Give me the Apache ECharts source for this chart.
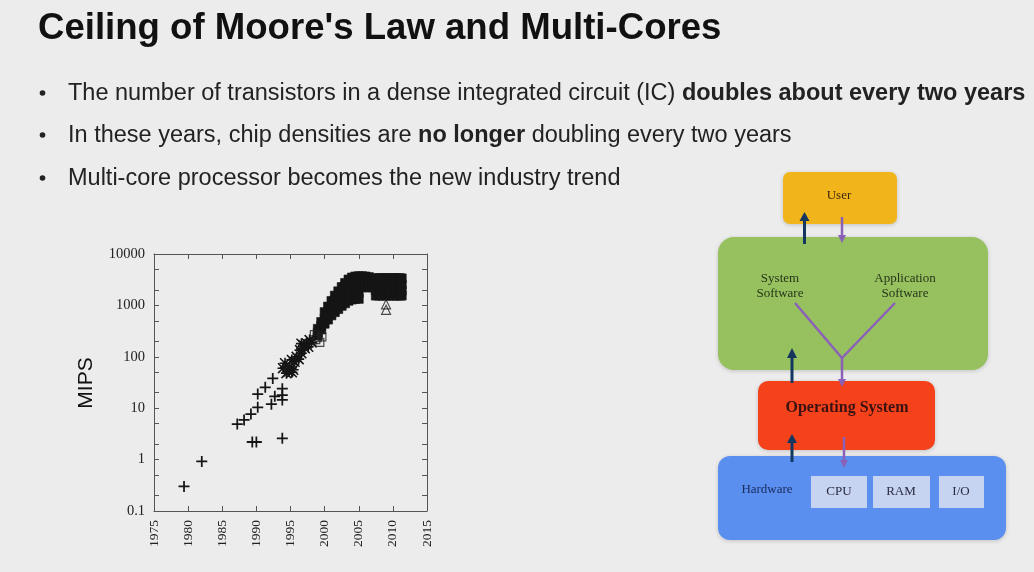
<!DOCTYPE html>
<html>
<head>
<meta charset="utf-8">
<script src="https://cdn.jsdelivr.net/npm/echarts@6/dist/echarts.min.js"></script>
<style>
html,body{margin:0;padding:0;background:#ececec;}
#main{width:1034px;height:572px;}
</style>
</head>
<body>
<div id="main"></div>
<script>
// ---- data ----
var xTickYears = [1975, 1980, 1985, 1990, 1995, 2000, 2005, 2010, 2015];
var yLabelValues = [0.1, 1, 10, 100, 1000, 10000];
var yTickValues = [0.1, 0.2, 0.5, 1, 2, 5, 10, 20, 50, 100, 200, 500, 1000, 2000, 5000, 10000];

var crossPoints = [
  [1979.4, 0.30], [1982.0, 0.92], [1987.2, 4.9], [1988.2, 5.9], [1989.2, 7.7],
  [1990.2, 10.4], [1990.2, 18.8], [1991.3, 25.5], [1992.4, 38], [1992.2, 12],
  [1992.7, 17], [1993.8, 24], [1993.8, 18], [1993.8, 14.5], [1989.4, 2.2],
  [1990.0, 2.2], [1993.8, 2.6]
];
var starPoints = [
  [1993.9, 60], [1994.2, 75], [1994.4, 48], [1994.7, 52], [1994.9, 64],
  [1995.2, 87], [1995.2, 50], [1995.4, 56], [1995.6, 80], [1995.9, 100],
  [1996.2, 90], [1996.4, 135], [1996.6, 117], [1996.6, 180], [1996.9, 168],
  [1997.1, 146], [1997.4, 182], [1997.6, 157], [1997.8, 212], [1998.1, 190]
];
var openSquarePoints = [
  [1998.5, 270], [1998.7, 215], [1998.9, 235], [1999.3, 190], [1999.6, 245]
];
var trianglePoints = [[2009.0, 1050], [2009.0, 820]];
var filledSquarePoints = [
  [1999.0, 260], [1999.0, 300], [1999.0, 350],
  [1999.5, 340], [1999.5, 400], [1999.5, 475],
  [2000.0, 440], [2000.0, 560], [2000.0, 740],
  [2000.5, 530], [2000.5, 700], [2000.5, 950],
  [2001.0, 640], [2001.0, 850], [2001.0, 1220],
  [2001.5, 740], [2001.5, 980], [2001.5, 1250], [2001.5, 1550],
  [2002.0, 850], [2002.0, 1100], [2002.0, 1450], [2002.0, 1880],
  [2002.5, 980], [2002.5, 1250], [2002.5, 1700], [2002.5, 2280],
  [2003.0, 1100], [2003.0, 1400], [2003.0, 1850], [2003.0, 2350], [2003.0, 2730],
  [2003.5, 1230], [2003.5, 1600], [2003.5, 2100], [2003.5, 2650], [2003.5, 3190],
  [2004.0, 1300], [2004.0, 1700], [2004.0, 2250], [2004.0, 2850], [2004.0, 3490],
  [2004.5, 1340], [2004.5, 1750], [2004.5, 2300], [2004.5, 2950], [2004.5, 3650],
  [2005.0, 1340], [2005.0, 1750], [2005.0, 2300], [2005.0, 2950], [2005.0, 3700],
  [2005.5, 2250], [2005.5, 2850], [2005.5, 3700],
  [2006.0, 2250], [2006.0, 2850], [2006.0, 3650],
  [2006.5, 2250], [2006.5, 2850], [2006.5, 3550],
  [2007.0, 2250], [2007.0, 2650], [2007.0, 3050],
  [2007.5, 1550], [2007.5, 1950], [2007.5, 2550], [2007.5, 3380],
  [2008.0, 1550], [2008.0, 1950], [2008.0, 2550], [2008.0, 3400],
  [2008.5, 1550], [2008.5, 1950], [2008.5, 2550], [2008.5, 3400],
  [2009.0, 1550], [2009.0, 1950], [2009.0, 2550], [2009.0, 3400],
  [2009.5, 1550], [2009.5, 1950], [2009.5, 2550], [2009.5, 3400],
  [2010.0, 1550], [2010.0, 1950], [2010.0, 2550], [2010.0, 3400],
  [2010.5, 1550], [2010.5, 1950], [2010.5, 2550], [2010.5, 3400],
  [2011.0, 1550], [2011.0, 1950], [2011.0, 2550], [2011.0, 3400],
  [2011.3, 1550], [2011.3, 1950], [2011.3, 2550], [2011.3, 3350]
];

var titleText = "Ceiling of Moore's Law and Multi-Cores";
var bulletTexts = [
  'The number of transistors in a dense integrated circuit (IC) {b|doubles about every two years}',
  'In these years, chip densities are {b|no longer} doubling every two years',
  'Multi-core processor becomes the new industry trend'
];
var yAxisTitle = 'MIPS';

// ---- chart ----
var chart = echarts.init(document.getElementById('main'));
var serif = "'Liberation Serif', 'DejaVu Serif', serif";
var sans = "'Liberation Sans', Arial, sans-serif";
var axisCol = '#555';
var markCol = '#151515';

var plusPath = 'path://M4.2,0H5.8V10H4.2Z M0,4.2H10V5.8H0Z';
var starPath = 'path://M4.25,0H5.75V10H4.25Z M0,4.25H10V5.75H0Z M0,1L1,0L10,9L9,10Z M9,0L10,1L1,10L0,9Z';

function xAxisDef(pos, showLabel) {
  return {
    type: 'value', position: pos, min: 1975, max: 2015, interval: 5,
    axisLine: {show: true, lineStyle: {color: axisCol, width: 1}},
    axisTick: {show: true, inside: true, length: 5, lineStyle: {color: axisCol}},
    axisLabel: {show: showLabel, rotate: 90, margin: 9, fontFamily: serif, fontSize: 13.5, color: '#222',
      customValues: xTickYears, formatter: function (v) { return String(v); }},
    splitLine: {show: false}
  };
}
function yAxisDef(pos, showLabel) {
  return {
    type: 'log', logBase: 10, position: pos, min: 0.1, max: 10000,
    axisLine: {show: true, lineStyle: {color: axisCol, width: 1}},
    axisTick: {show: true, inside: true, length: 5, lineStyle: {color: axisCol}, customValues: yTickValues},
    axisLabel: {show: showLabel, margin: 9, fontFamily: serif, fontSize: 14.5, color: '#222',
      customValues: yLabelValues, formatter: function (v) { return String(v); }},
    splitLine: {show: false}, minorTick: {show: false}
  };
}

function box(x, y, w, h, r, fill) {
  return {type: 'rect', shape: {x: x, y: y, width: w, height: h, r: r},
    style: {fill: fill, shadowBlur: 4, shadowColor: 'rgba(0,0,0,0.18)', shadowOffsetY: 1}};
}
function txt(x, y, s, font, fill, align) {
  return {type: 'text', x: x, y: y, style: {text: s, font: font, fill: fill, align: align || 'center', verticalAlign: 'middle'}};
}
function seg(x1, y1, x2, y2, col, w) {
  return {type: 'line', shape: {x1: x1, y1: y1, x2: x2, y2: y2}, style: {stroke: col, lineWidth: w}};
}
function head(pts, col) {
  return {type: 'polygon', shape: {points: pts}, style: {fill: col}};
}
var navy = '#15375f', purple = '#8b60b8';

var graphics = [
  {type: 'text', x: 38, y: 29, style: {text: titleText, font: 'bold 36.6px ' + sans, fill: '#111', align: 'left', verticalAlign: 'middle'}}
];
var bulletY = [94, 136, 179];
bulletTexts.forEach(function (t, i) {
  graphics.push({type: 'circle', shape: {cx: 42.5, cy: bulletY[i] - 1, r: 2.8}, style: {fill: '#222'}});
  graphics.push({type: 'text', x: 68, y: bulletY[i], style: {
    text: t, fontFamily: sans, fontSize: 23.5, fill: '#222', align: 'left', verticalAlign: 'middle',
    rich: {b: {fontFamily: sans, fontSize: 23.5, fontWeight: 'bold', fill: '#222'}}
  }});
});
graphics.push({type: 'text', x: 86, y: 383, rotation: Math.PI / 2,
  style: {text: yAxisTitle, font: '21px ' + sans, fill: '#111', align: 'center', verticalAlign: 'middle'}});

// diagram
graphics = graphics.concat([
  box(783, 172, 114, 52, 7, '#f1b41b'),
  box(718, 237, 270, 133, 16, '#97c15e'),
  box(758, 381, 177, 69, 10, '#f5421b'),
  box(718, 456, 288, 84, 12, '#5a8ff0'),
  {type: 'rect', shape: {x: 811, y: 476, width: 56, height: 32}, style: {fill: '#c6d3f1'}},
  {type: 'rect', shape: {x: 873, y: 476, width: 57, height: 32}, style: {fill: '#c6d3f1'}},
  {type: 'rect', shape: {x: 939, y: 476, width: 45, height: 32}, style: {fill: '#c6d3f1'}},
  txt(839, 196, 'User', '13px ' + serif, '#3a2a10'),
  txt(780, 279, 'System', '13px ' + serif, '#25351a'),
  txt(780, 294, 'Software', '13px ' + serif, '#25351a'),
  txt(905, 279, 'Application', '13px ' + serif, '#25351a'),
  txt(905, 294, 'Software', '13px ' + serif, '#25351a'),
  txt(847, 408, 'Operating System', 'bold 16px ' + serif, '#3a1212'),
  txt(767, 490, 'Hardware', '13px ' + serif, '#1a2a5a'),
  txt(839, 492, 'CPU', '13px ' + serif, '#2a2a40'),
  txt(901, 492, 'RAM', '13px ' + serif, '#2a2a40'),
  txt(961, 492, 'I/O', '13px ' + serif, '#2a2a40'),
  // arrows
  seg(804.5, 244, 804.5, 219, navy, 3), head([[799.5, 221], [809.5, 221], [804.5, 212]], navy),
  seg(842, 217, 842, 236, purple, 2.5), head([[838, 235], [846, 235], [842, 243]], purple),
  seg(795, 303, 842, 358, purple, 2.5), seg(895, 303, 842, 358, purple, 2.5),
  seg(842, 357, 842, 380, purple, 2.5), head([[838, 379], [846, 379], [842, 387]], purple),
  seg(792, 383, 792, 356, navy, 3), head([[787, 358], [797, 358], [792, 348]], navy),
  seg(792, 462, 792, 442, navy, 3), head([[787, 443], [797, 443], [792, 434]], navy),
  seg(844, 437, 844, 461, purple, 2.5), head([[840, 460], [848, 460], [844, 468]], purple)
]);

var option = {
  backgroundColor: '#ececec',
  animation: false,
  grid: {left: 154, top: 254, width: 273, height: 257, show: false},
  xAxis: [xAxisDef('bottom', true), xAxisDef('top', false)],
  yAxis: [yAxisDef('left', true), yAxisDef('right', false)],
  series: [
    {type: 'scatter', name: 'filled', data: filledSquarePoints, symbol: 'rect', symbolSize: 9,
      itemStyle: {color: markCol, borderColor: markCol, borderWidth: 0.6, opacity: 1}, silent: true},
    {type: 'scatter', name: 'open', data: openSquarePoints, symbol: 'rect', symbolSize: 8,
      itemStyle: {color: 'rgba(0,0,0,0)', borderColor: '#222', borderWidth: 1.2}, silent: true},
    {type: 'scatter', name: 'tri', data: trianglePoints, symbol: 'triangle', symbolSize: 9,
      itemStyle: {color: 'rgba(0,0,0,0)', borderColor: '#222', borderWidth: 1.2}, silent: true},
    {type: 'scatter', name: 'plus', data: crossPoints, symbol: plusPath, symbolSize: 11,
      itemStyle: {color: markCol, opacity: 1}, silent: true},
    {type: 'scatter', name: 'star', data: starPoints, symbol: starPath, symbolSize: 11,
      itemStyle: {color: markCol, opacity: 1}, silent: true}
  ],
  graphic: graphics
};
chart.setOption(option);
</script>
</body>
</html>
